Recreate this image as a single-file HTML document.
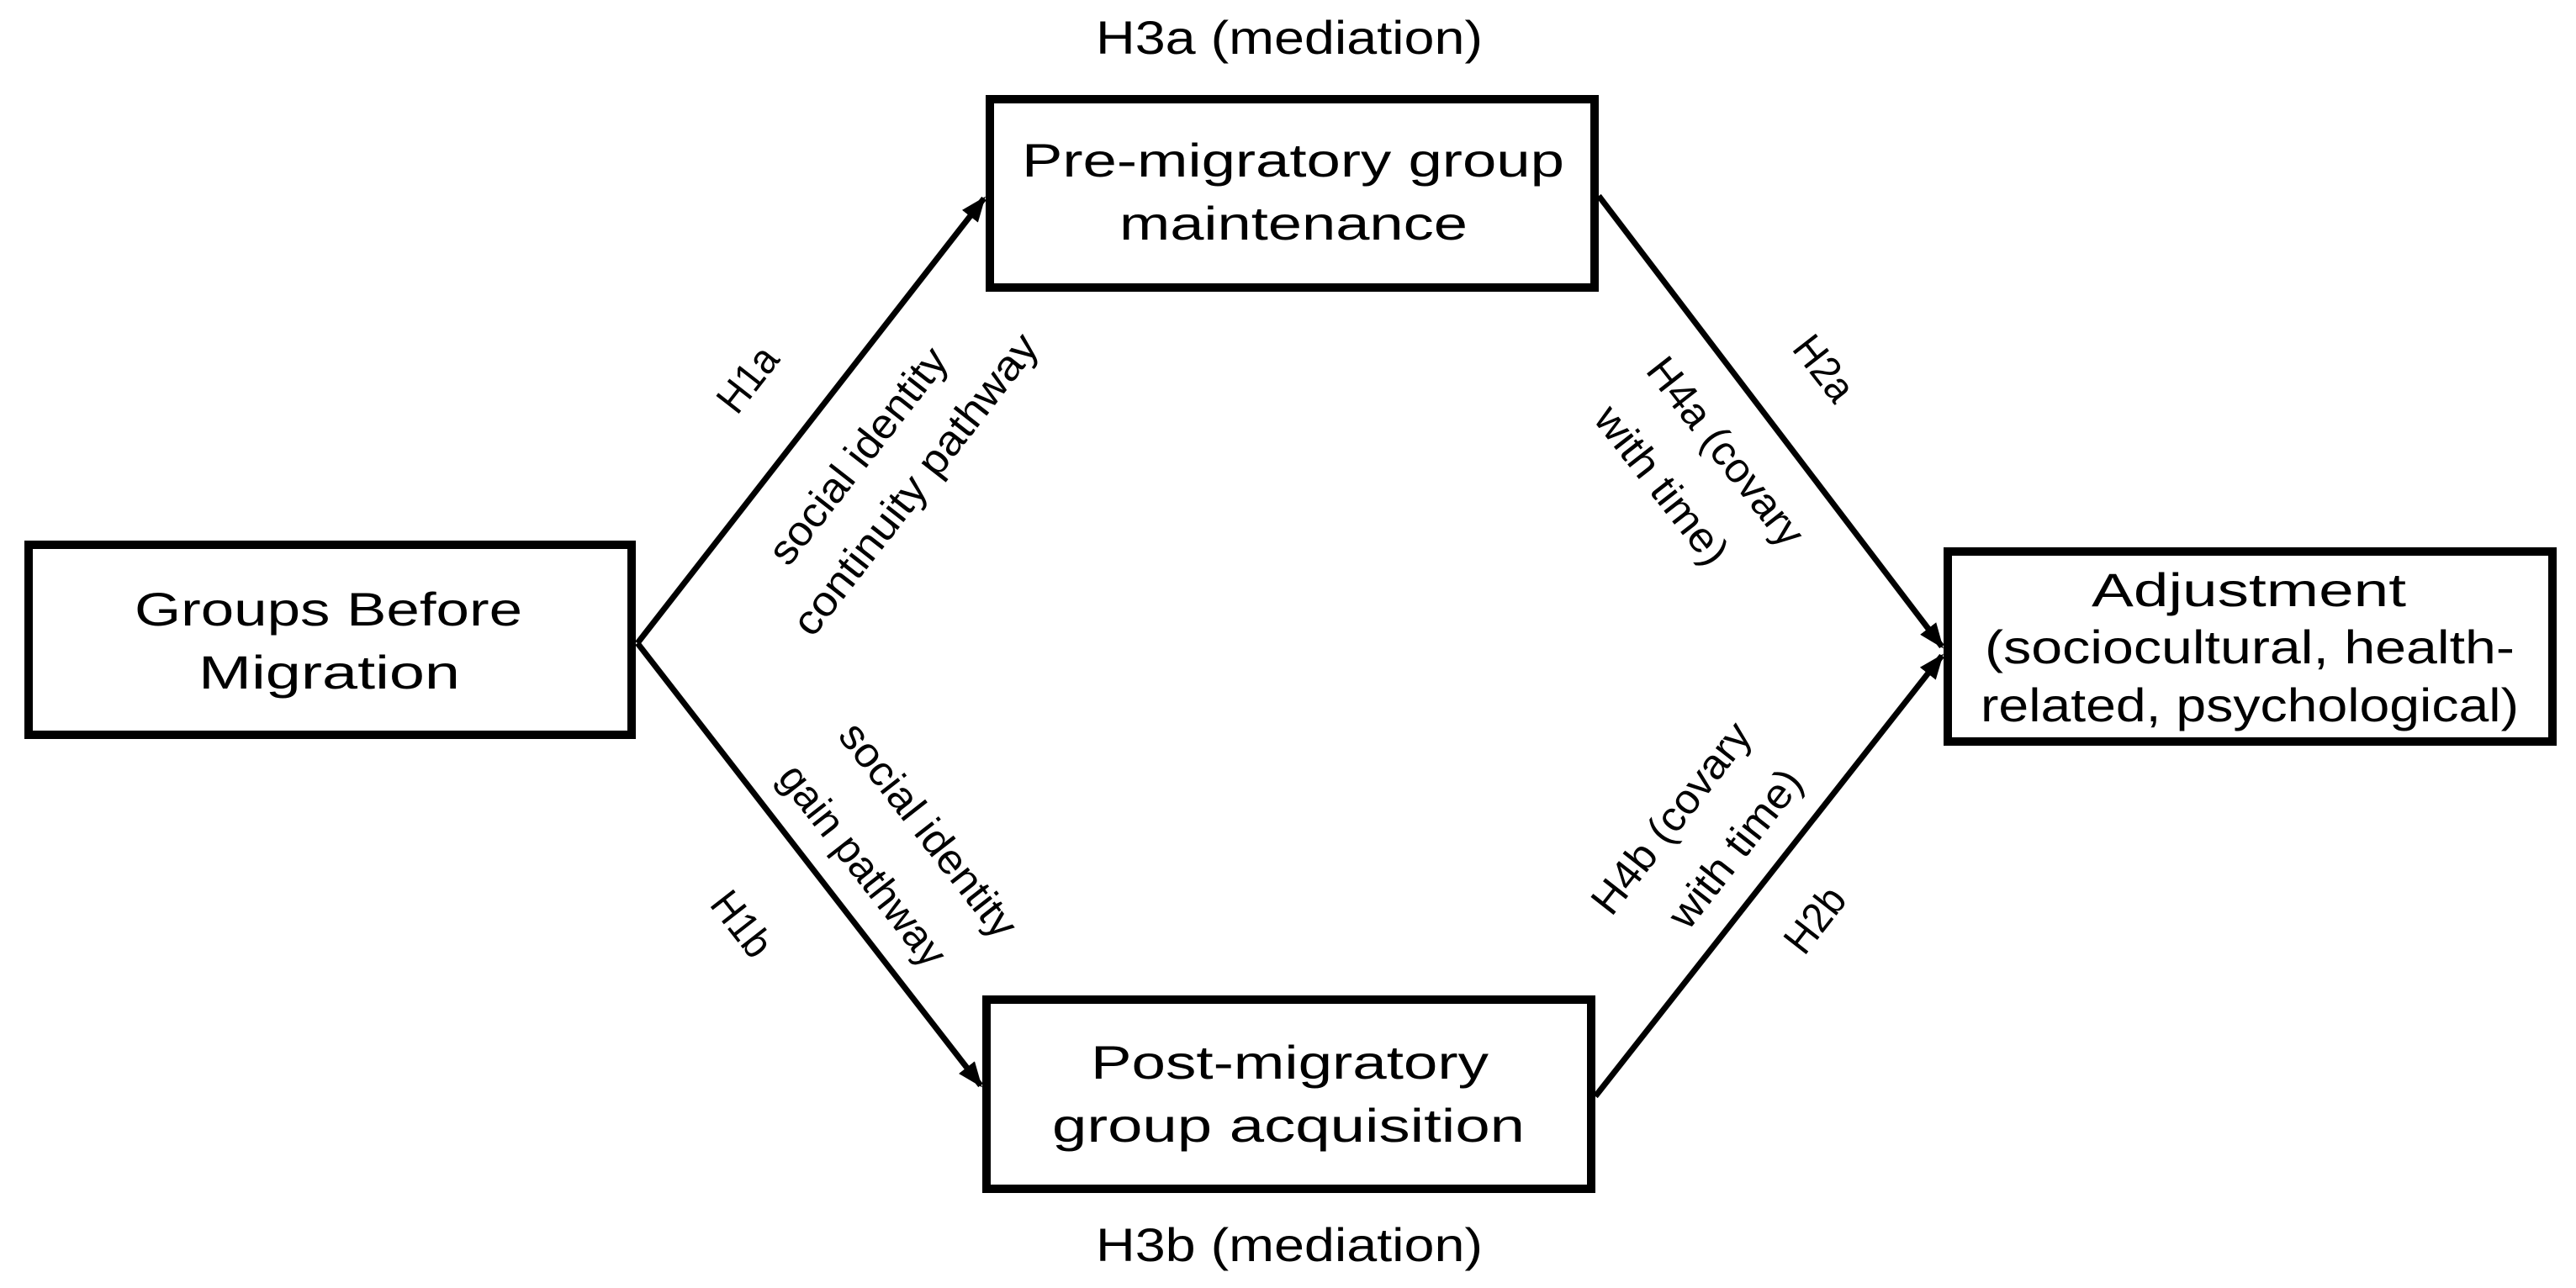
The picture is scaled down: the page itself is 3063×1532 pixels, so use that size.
<!DOCTYPE html>
<html><head><meta charset="utf-8">
<style>html,body{margin:0;padding:0;background:#fff}svg{display:block}</style>
</head><body>
<svg width="3063" height="1532" viewBox="0 0 3063 1532" xmlns="http://www.w3.org/2000/svg" font-family="'Liberation Sans', sans-serif" fill="#000">
<defs>
<marker id="ah" markerWidth="10" markerHeight="10" refX="9" refY="5" orient="auto" markerUnits="userSpaceOnUse" viewBox="0 0 10 10">
</marker>
<marker id="a" viewBox="0 0 10 10" refX="9" refY="5" markerWidth="30" markerHeight="30" markerUnits="userSpaceOnUse" orient="auto"><path d="M0,1 L10,5 L0,9 z" fill="#000"/></marker>
</defs>
<g fill="none" stroke="#000" stroke-width="10">
<rect x="34" y="648" width="717" height="226"/>
<rect x="1177" y="118" width="719" height="224"/>
<rect x="1173" y="1189" width="719" height="225"/>
<rect x="2316" y="656" width="719" height="226"/>
</g>
<g stroke="#000" stroke-width="7" fill="none">
<line x1="758" y1="765" x2="1170" y2="236" marker-end="url(#a)"/>
<line x1="758" y1="765" x2="1166" y2="1291" marker-end="url(#a)"/>
<line x1="1901" y1="233" x2="2309" y2="769" marker-end="url(#a)"/>
<line x1="1897" y1="1304" x2="2309" y2="780" marker-end="url(#a)"/>
</g>
<g font-size="56" lengthAdjust="spacingAndGlyphs">
<text x="1303" y="64" textLength="460" lengthAdjust="spacingAndGlyphs">H3a (mediation)</text>
<text x="1215" y="210" textLength="645" lengthAdjust="spacingAndGlyphs">Pre-migratory group</text>
<text x="1331" y="285" textLength="414" lengthAdjust="spacingAndGlyphs">maintenance</text>
<text x="160" y="744" textLength="461" lengthAdjust="spacingAndGlyphs">Groups Before</text>
<text x="236" y="819" textLength="311" lengthAdjust="spacingAndGlyphs">Migration</text>
<text x="2487" y="721" textLength="374" lengthAdjust="spacingAndGlyphs">Adjustment</text>
<text x="2360" y="789" textLength="630" lengthAdjust="spacingAndGlyphs">(sociocultural, health-</text>
<text x="2355" y="858" textLength="640" lengthAdjust="spacingAndGlyphs">related, psychological)</text>
<text x="1297" y="1283" textLength="473" lengthAdjust="spacingAndGlyphs">Post-migratory</text>
<text x="1251" y="1358" textLength="562" lengthAdjust="spacingAndGlyphs">group acquisition</text>
<text x="1303" y="1500" textLength="460" lengthAdjust="spacingAndGlyphs">H3b (mediation)</text>
</g>
<g font-size="50" text-anchor="middle" dominant-baseline="central">
<text transform="translate(889,451) rotate(-52)" textLength="85" lengthAdjust="spacingAndGlyphs">H1a</text>
<text transform="translate(1020,542) rotate(-52)" textLength="312" lengthAdjust="spacingAndGlyphs">social identity</text>
<text transform="translate(1088,576) rotate(-52)" textLength="440" lengthAdjust="spacingAndGlyphs">continuity pathway</text>
<text transform="translate(2169,438) rotate(52)" textLength="85" lengthAdjust="spacingAndGlyphs">H2a</text>
<text transform="translate(2052,537) rotate(52)" textLength="270" lengthAdjust="spacingAndGlyphs">H4a (covary</text>
<text transform="translate(1976,577) rotate(52)" textLength="225" lengthAdjust="spacingAndGlyphs">with time)</text>
<text transform="translate(1104,987) rotate(52)" textLength="310" lengthAdjust="spacingAndGlyphs">social identity</text>
<text transform="translate(1026,1029) rotate(52)" textLength="290" lengthAdjust="spacingAndGlyphs">gain pathway</text>
<text transform="translate(882,1099) rotate(52)" textLength="85" lengthAdjust="spacingAndGlyphs">H1b</text>
<text transform="translate(1987,973) rotate(-52)" textLength="274" lengthAdjust="spacingAndGlyphs">H4b (covary</text>
<text transform="translate(2063,1009) rotate(-52)" textLength="225" lengthAdjust="spacingAndGlyphs">with time)</text>
<text transform="translate(2158,1094) rotate(-52)" textLength="85" lengthAdjust="spacingAndGlyphs">H2b</text>
</g>
</svg>
</body></html>
